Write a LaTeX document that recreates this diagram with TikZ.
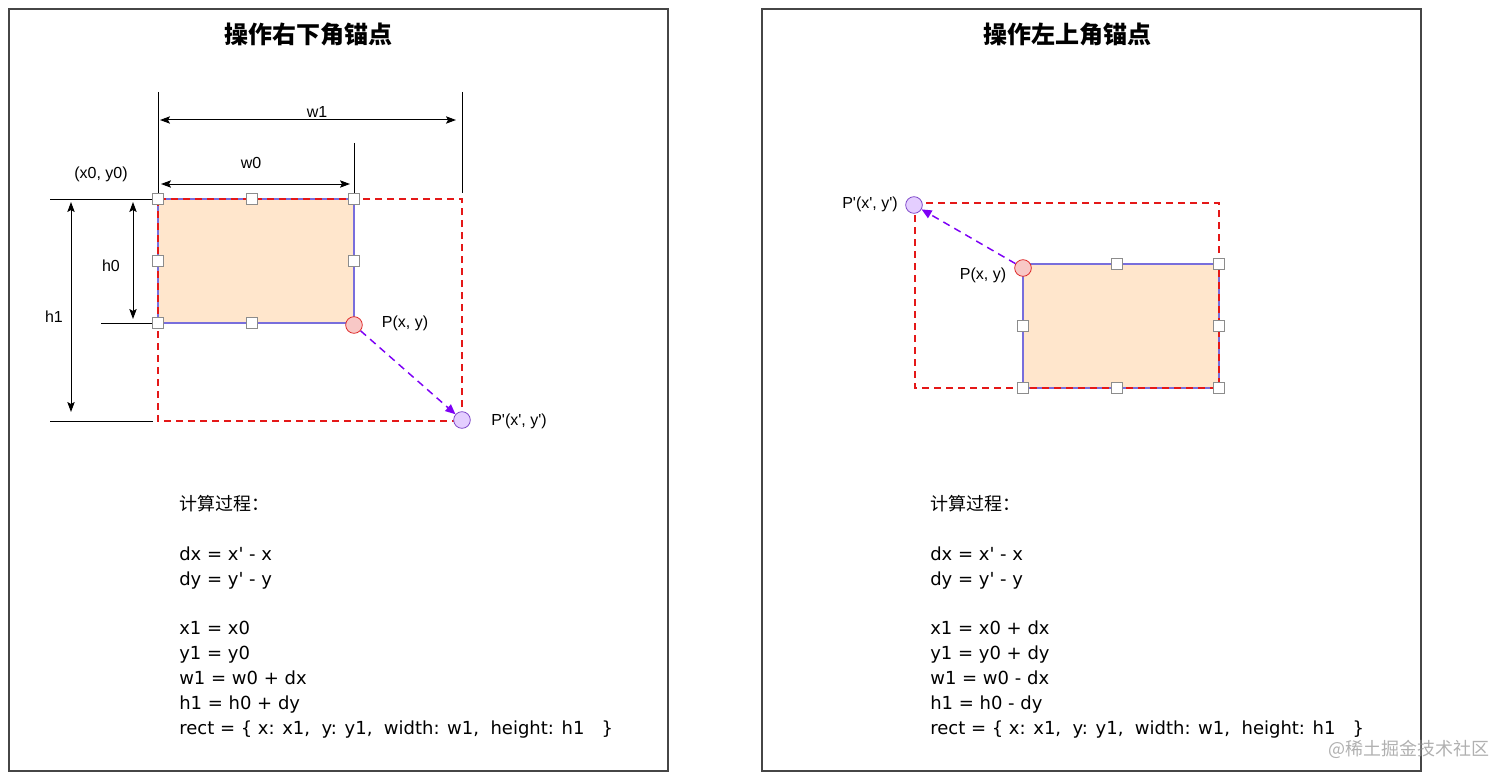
\documentclass[tikz,border=0pt]{standalone}
\usepackage{fontspec}
\setmainfont{Liberation Sans}
\newfontfamily\cjk{Noto Sans CJK SC}
\newfontfamily\calcfont{DejaVu Sans}
\usetikzlibrary{arrows.meta}
\newcommand\sq{\textquotesingle}
\definecolor{framec}{RGB}{70,70,70}
\definecolor{redd}{RGB}{228,24,24}
\definecolor{orangef}{RGB}{255,230,204}
\definecolor{rectb}{RGB}{120,110,220}
\definecolor{ptredf}{RGB}{248,200,198}
\definecolor{ptredd}{RGB}{222,40,40}
\definecolor{ptpurf}{RGB}{228,206,255}
\definecolor{ptpurd}{RGB}{125,70,200}
\definecolor{arrowp}{RGB}{125,0,245}
\definecolor{handled}{RGB}{140,140,140}
\definecolor{wmark}{RGB}{150,150,150}
\begin{document}
\begin{tikzpicture}[x=0.75pt,y=-0.75pt,
  frame/.style={draw=framec, line width=1pt},
  thin/.style={draw=black, line width=0.75pt},
  dimarrow/.style={draw=black, line width=0.75pt, {Stealth[length=7.5pt,width=5.5pt,inset=1.5pt]}-{Stealth[length=7.5pt,width=5.5pt,inset=1.5pt]}},
  reddash/.style={draw=redd, line width=1.2pt, dash pattern=on 5.5pt off 3.5pt},
  orect/.style={fill=orangef, draw=rectb, line width=0.8pt},
  handle/.style={draw=handled, fill=white, minimum size=8pt, inner sep=0pt, line width=0.5pt},
  ptred/.style={circle, draw=ptredd, fill=ptredf, minimum size=12.5pt, inner sep=0pt, line width=0.6pt},
  ptpur/.style={circle, draw=ptpurd, fill=ptpurf, minimum size=12.5pt, inner sep=0pt, line width=0.6pt},
  movearrow/.style={draw=arrowp, line width=1.1pt, dash pattern=on 5.5pt off 4pt, -{Triangle[length=7.5pt,width=6.5pt]}},
  lbl/.style={font=\fontsize{12}{14}\selectfont, inner sep=0pt},
  title/.style={font=\cjk\bfseries\fontsize{18}{20}\selectfont, inner sep=0pt},
  calc/.style={font=\calcfont\fontsize{13.5}{18.6}\selectfont, align=left, anchor=base west, inner sep=0pt},
]
\useasboundingbox (0,0) rectangle (1512,781);
% frames
\draw[frame] (9,9) rectangle (668,771);
\draw[frame] (762,9) rectangle (1421,771);
% titles
\node[title] (t1) at (308,34) {操作右下角锚点};
\node[title] (t2) at (1067,34) {操作左上角锚点};

% ===== left panel =====
\path[orect] (158,199) rectangle (354,323);
\path[reddash] (158,199) rectangle (462,421);
% extension lines
\draw[thin] (158,92) -- (158,199);
\draw[thin] (462,92) -- (462,193);
\draw[thin] (354,143) -- (354,199);
\draw[thin] (50,199) -- (158,199);
\draw[thin] (101,323) -- (158,323);
\draw[thin] (50,421) -- (153,421);
% dimension arrows
\coordinate (w1a) at (160,120); \coordinate (w1b) at (456,120);
\coordinate (w0a) at (161,184); \coordinate (w0b) at (350,184);
\coordinate (h0a) at (133,202); \coordinate (h0b) at (133,319);
\coordinate (h1a) at (71,202); \coordinate (h1b) at (71,412);
\draw[dimarrow] (w1a) -- (w1b);
\draw[dimarrow] (w0a) -- (w0b);
\draw[dimarrow] (h0a) -- (h0b);
\draw[dimarrow] (h1a) -- (h1b);
\node[lbl] (lw1) at (317,112) {w1};
\node[lbl] (lw0) at (251,163) {w0};
\node[lbl] (lh0) at (111,266) {h0};
\node[lbl] (lh1) at (54,317) {h1};
\node[lbl] (lxy) at (101,174) {(x0, y0)};
% handles
\node[handle] (a1) at (158,199) {};
\node[handle] (a2) at (252,199) {};
\node[handle] (a3) at (354,199) {};
\node[handle] (a4) at (158,261) {};
\node[handle] (a5) at (354,261) {};
\node[handle] (a6) at (158,323) {};
\node[handle] (a7) at (252,323) {};
% points
\node[ptred] (p1) at (354,325) {};
\node[ptpur] (q1) at (462,420) {};
\draw[movearrow] (p1) -- (q1);
\node[lbl] (lp1) at (405,323) {P(x, y)};
\node[lbl] (lq1) at (519,421) {P\sq(x\sq, y\sq)};
% calc text
\node[calc] (c1) at (179,734) {{\cjk 计算过程：}\\[18.6pt]
dx = x\sq\ - x\\
dy = y\sq\ - y\\[18.6pt]
x1 = x0\\
y1 = y0\\
w1 = w0 + dx\\
h1 = h0 + dy\\
rect = \{ x: x1,\ \ y: y1,\ \ width: w1,\ \ height: h1\ \ \ \}};

% ===== right panel =====
\path[orect] (1023,264) rectangle (1219,388);
\path[reddash] (915,203) rectangle (1219,388);
\node[handle] (b2) at (1117,264) {};
\node[handle] (b3) at (1219,264) {};
\node[handle] (b4) at (1023,326) {};
\node[handle] (b5) at (1219,326) {};
\node[handle] (b6) at (1023,388) {};
\node[handle] (b7) at (1117,388) {};
\node[handle] (b8) at (1219,388) {};
\node[ptred] (p2) at (1023,268) {};
\node[ptpur] (q2) at (914,205) {};
\draw[movearrow] (p2) -- (q2);
\node[lbl] (lp2) at (983,275) {P(x, y)};
\node[lbl] (lq2) at (870,204) {P\sq(x\sq, y\sq)};
\node[calc] (c2) at (930,734) {{\cjk 计算过程：}\\[18.6pt]
dx = x\sq\ - x\\
dy = y\sq\ - y\\[18.6pt]
x1 = x0 + dx\\
y1 = y0 + dy\\
w1 = w0 - dx\\
h1 = h0 - dy\\
rect = \{ x: x1,\ \ y: y1,\ \ width: w1,\ \ height: h1\ \ \ \}};

% watermark
\node[font=\cjk\fontsize{13.5}{14}\selectfont, text=wmark, opacity=0.75, inner sep=0pt] (wm) at (1409,749) {@稀土掘金技术社区};
\end{tikzpicture}
\end{document}
